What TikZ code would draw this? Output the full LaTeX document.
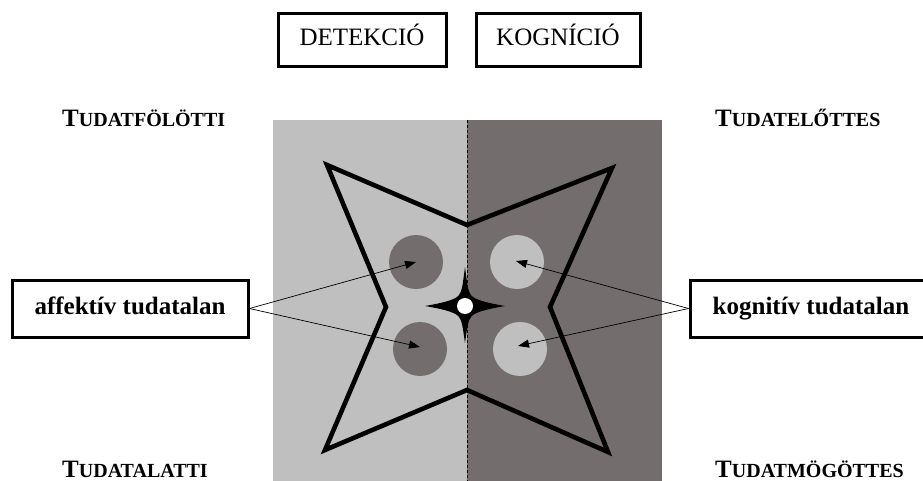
\documentclass[tikz,border=0pt]{standalone}
\usepackage{fontspec}
\setmainfont{Liberation Serif}
\usetikzlibrary{arrows.meta}
\definecolor{lightfield}{RGB}{191,191,191}
\definecolor{darkfield}{RGB}{115,110,109}
\newcommand{\capsword}[2]{{\fontsize{25}{30}\selectfont\bfseries #1{\fontsize{20}{24}\selectfont #2}}}
\begin{document}
\begin{tikzpicture}[x=1pt,y=-1pt,
  labelbox/.style={draw=black,line width=3pt,fill=white,inner sep=0pt,
    text height=17pt,text depth=6pt,font=\fontsize{25}{30}\selectfont},
  corner/.style={anchor=base west,inner sep=0pt},
  pointer/.style={line width=0.7pt,-{Triangle[length=11pt,width=8pt]}}]
\useasboundingbox (0,0) rectangle (923,481);
\clip (0,0) rectangle (923,481);

% the two halves of the field
\fill[lightfield] (273,120) rectangle (467,481);
\fill[darkfield] (467,120) rectangle (662,481);
\draw[line width=0.8pt,dash pattern=on 3pt off 2pt] (467,120) -- (467,481);

% the large four-pointed star
\draw[line width=4.6pt,line join=miter,miter limit=10]
  (327,165) -- (467,225) -- (612,168) -- (550,307) -- (608,452)
  -- (467,390) -- (325,450) -- (386,307) -- cycle;

% the four discs
\fill[darkfield] (416,262) circle (27);
\fill[darkfield] (420,349) circle (27);
\fill[lightfield] (517,262) circle (27);
\fill[lightfield] (520,349) circle (27);
\coordinate (a1) at (416,262);
\coordinate (a2) at (420,347);
\coordinate (k1) at (516,261);
\coordinate (k2) at (518,346);

% the small central star with its white core
\fill[black] (425,306) .. controls (448,302) and (456,299) .. (459,295)
  .. controls (462,290) .. (465,267) .. controls (468,290) .. (471,295)
  .. controls (474,299) and (482,302) .. (505,306)
  .. controls (482,310) and (474,313) .. (471,317)
  .. controls (468,322) .. (465,343) .. controls (462,322) .. (459,317)
  .. controls (456,313) and (448,310) .. (425,306) -- cycle;
\fill[white] (465,306) circle (8);

% the boxed labels
\node[labelbox,minimum width=168pt,minimum height=53pt] (det) at (362,40.5) {DETEKCIÓ};
\node[labelbox,minimum width=164pt,minimum height=53pt] (kog) at (558,40.5) {KOGNÍCIÓ};
\node[labelbox,minimum width=236pt,minimum height=57pt,font=\fontsize{25}{30}\selectfont\bfseries] (aff) at (130,308.5) {affektív tudatalan};
\node[labelbox,minimum width=242pt,minimum height=57pt,font=\fontsize{25}{30}\selectfont\bfseries] (cog) at (811,308.5) {kognitív tudatalan};

% the arrows from the labels to the discs
\draw[pointer] (aff.east) -- (a1);
\draw[pointer] (aff.east) -- (a2);
\draw[pointer] (cog.west) -- (k1);
\draw[pointer] (cog.west) -- (k2);

% the corner headings
\node[corner] (tl) at (62,127) {\capsword{T}{UDATFÖLÖTTI}};
\node[corner] (tr) at (715,127) {\capsword{T}{UDATELŐTTES}};
\node[corner] (bl) at (62,477) {\capsword{T}{UDATALATTI}};
\node[corner] (br) at (715,477) {\capsword{T}{UDATMÖGÖTTES}};
\end{tikzpicture}
\end{document}
